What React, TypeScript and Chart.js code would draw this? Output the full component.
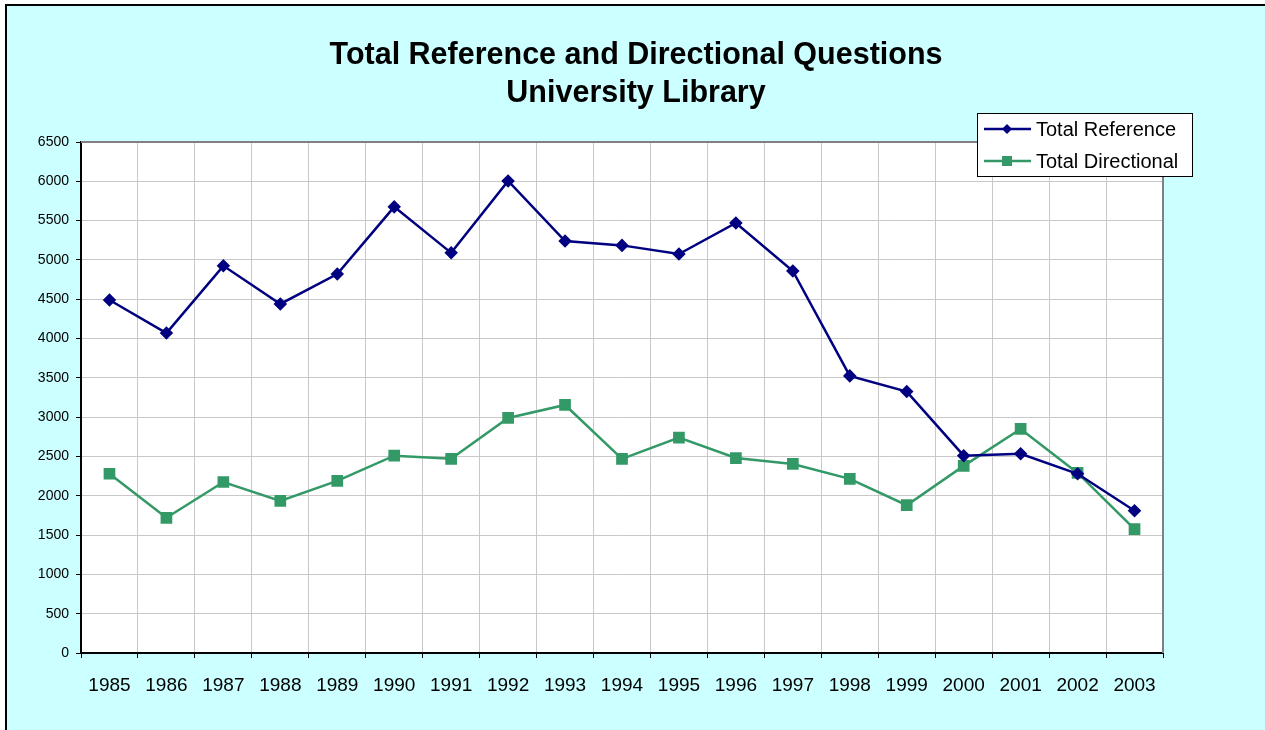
import React, { useEffect, useRef } from "react";
import { Chart, registerables } from "chart.js";

Chart.register(...registerables);

const years = ["1985","1986","1987","1988","1989","1990","1991","1992","1993","1994","1995","1996","1997","1998","1999","2000","2001","2002","2003"];
const totalReference = [4490, 4070, 4925, 4440, 4820, 5675, 5090, 6005, 5240, 5185, 5075, 5470, 4860, 3525, 3325, 2510, 2535, 2280, 1810];
const totalDirectional = [2280, 1720, 2175, 1935, 2190, 2510, 2470, 2990, 3155, 2470, 2740, 2480, 2405, 2215, 1880, 2380, 2850, 2290, 1575];
const titleLines = ["Total Reference and Directional Questions", "University Library"];
const seriesLabels = ["Total Reference", "Total Directional"];

const FONT = "'Liberation Sans', Arial, sans-serif";

const framePlugin = {
  id: "frame",
  beforeDraw(chart: any) {
    const { ctx, width, height, chartArea } = chart;
    ctx.save();
    ctx.fillStyle = "#ffffff";
    ctx.fillRect(0, 0, width, height);
    ctx.fillStyle = "#CCFFFF";
    ctx.fillRect(5, 4, width - 5, height - 4);
    ctx.strokeStyle = "#000000";
    ctx.lineWidth = 2;
    ctx.beginPath();
    ctx.moveTo(6, height);
    ctx.lineTo(6, 5);
    ctx.lineTo(width, 5);
    ctx.stroke();
    ctx.fillStyle = "#ffffff";
    ctx.fillRect(chartArea.left, chartArea.top, chartArea.right - chartArea.left, chartArea.bottom - chartArea.top);
    ctx.restore();
  },
  afterDatasetsDraw(chart: any) {
    const { ctx, chartArea } = chart;
    ctx.save();
    ctx.strokeStyle = "#808080";
    ctx.lineWidth = 2;
    ctx.beginPath();
    ctx.moveTo(chartArea.left, chartArea.top);
    ctx.lineTo(chartArea.right, chartArea.top);
    ctx.lineTo(chartArea.right, chartArea.bottom);
    ctx.stroke();
    ctx.restore();
  },
  afterDraw(chart: any) {
    const { ctx } = chart;
    ctx.save();
    ctx.fillStyle = "#000000";
    ctx.font = `bold 30.5px ${FONT}`;
    ctx.textAlign = "center";
    ctx.textBaseline = "middle";
    ctx.fillText(titleLines[0], 636, 56);
    ctx.fillText(titleLines[1], 636, 94);
    const lx = 977, ly = 113, lw = 215, lh = 63;
    ctx.fillStyle = "#ffffff";
    ctx.fillRect(lx, ly, lw, lh);
    ctx.strokeStyle = "#000000";
    ctx.lineWidth = 1;
    ctx.strokeRect(lx + 0.5, ly + 0.5, lw, lh);
    const ds = chart.data.datasets;
    ds.forEach((d: any, i: number) => {
      const y = 129 + i * 32;
      ctx.strokeStyle = d.borderColor;
      ctx.lineWidth = 2.5;
      ctx.beginPath();
      ctx.moveTo(984, y);
      ctx.lineTo(1031, y);
      ctx.stroke();
      ctx.fillStyle = d.borderColor;
      if (i === 0) {
        ctx.beginPath();
        ctx.moveTo(1007, y - 5);
        ctx.lineTo(1012, y);
        ctx.lineTo(1007, y + 5);
        ctx.lineTo(1002, y);
        ctx.closePath();
        ctx.fill();
      } else {
        ctx.fillRect(1002, y - 5, 10, 10);
      }
      ctx.fillStyle = "#000000";
      ctx.font = `20px ${FONT}`;
      ctx.textAlign = "left";
      ctx.textBaseline = "middle";
      ctx.fillText(d.label, 1036, y + 1);
    });
    ctx.restore();
  },
};

export default function App() {
  const ref = useRef<HTMLCanvasElement>(null);
  useEffect(() => {
    document.body.style.margin = "0";
    const chart = new Chart(ref.current!, {
      type: "line",
      data: {
        labels: years,
        datasets: [
          {
            label: seriesLabels[0],
            data: totalReference,
            borderColor: "#000080",
            backgroundColor: "#000080",
            borderWidth: 2.5,
            pointStyle: "rectRot",
            pointRadius: 5,
            pointHoverRadius: 5,
            tension: 0,
          },
          {
            label: seriesLabels[1],
            data: totalDirectional,
            borderColor: "#339966",
            backgroundColor: "#339966",
            borderWidth: 2.5,
            pointStyle: "rect",
            pointRadius: 6.5,
            pointHoverRadius: 6.5,
            tension: 0,
          },
        ],
      },
      options: {
        animation: false,
        responsive: false,
        events: [],
        layout: { padding: { top: 142, right: 102, left: 0, bottom: 0 } },
        plugins: { legend: { display: false }, title: { display: false }, tooltip: { enabled: false } },
        scales: {
          x: {
            type: "category",
            offset: true,
            grid: { offset: true, color: "#c8c8c8", lineWidth: 1, tickLength: 5, tickColor: "#000000", drawOnChartArea: true },
            border: { color: "#000000", width: 2 },
            ticks: { color: "#000000", font: { family: FONT, size: 19 }, padding: 16, maxRotation: 0, autoSkip: false },
            afterFit(scale: any) { scale.height = 77; },
          },
          y: {
            min: 0,
            max: 6500,
            grid: { color: "#c8c8c8", lineWidth: 1, tickLength: 5, tickColor: "#000000" },
            border: { color: "#000000", width: 2 },
            ticks: {
              stepSize: 500,
              color: "#000000",
              font: { family: FONT, size: 14 },
              padding: 7,
              callback: (v: any) => String(v),
            },
            afterFit(scale: any) { scale.width = 81; },
          },
        },
      },
      plugins: [framePlugin],
    });
    return () => chart.destroy();
  }, []);
  return <canvas ref={ref} width={1265} height={730} style={{ display: "block", width: 1265, height: 730 }} />;
}
